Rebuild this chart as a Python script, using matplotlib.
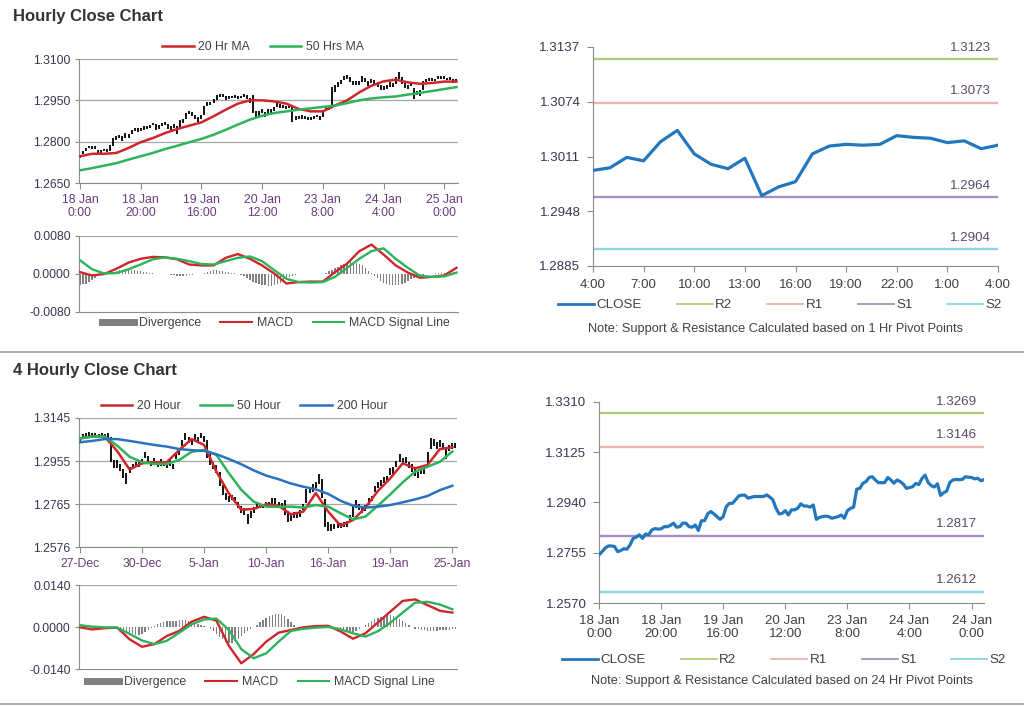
import numpy as np
import matplotlib
matplotlib.use("Agg")
import matplotlib.pyplot as plt
from matplotlib.lines import Line2D

plt.rcParams['font.family'] = ['Liberation Sans', 'DejaVu Sans']

# Hourly closes, 18 Jan 0:00 onwards (125 bars)
hourly_close = [
    1.2747, 1.2759, 1.2772, 1.2780, 1.2780, 1.2778, 1.2759, 1.2763, 1.2770, 1.2768,
    1.2784, 1.2808, 1.2812, 1.2821, 1.2808, 1.2824, 1.2821, 1.2839, 1.2844, 1.2842,
    1.2843, 1.2851, 1.2851, 1.2856, 1.2864, 1.2849, 1.2851, 1.2864, 1.2864, 1.2851,
    1.2849, 1.2857, 1.2837, 1.2873, 1.2873, 1.2898, 1.2907, 1.2898, 1.2888, 1.2878,
    1.2888, 1.2925, 1.2937, 1.2937, 1.2950, 1.2964, 1.2967, 1.2967, 1.2956, 1.2959,
    1.2962, 1.2962, 1.2962, 1.2962, 1.2968, 1.2960, 1.2950, 1.2919, 1.2898, 1.2900,
    1.2910, 1.2894, 1.2913, 1.2913, 1.2919, 1.2935, 1.2927, 1.2927, 1.2923, 1.2931,
    1.2878, 1.2885, 1.2888, 1.2890, 1.2888, 1.2882, 1.2885, 1.2888, 1.2894, 1.2882,
    1.2910, 1.2918, 1.2923, 1.2989, 1.2992, 1.3011, 1.3017, 1.3032, 1.3035, 1.3023,
    1.3013, 1.3013, 1.3013, 1.3032, 1.3023, 1.3011, 1.3023, 1.3017, 1.3008, 1.2992,
    1.2995, 1.2998, 1.3010, 1.3006, 1.3028, 1.3041, 1.3014, 1.3002, 1.2997, 1.3009,
    1.2966, 1.2976, 1.2982, 1.3014, 1.3023, 1.3025, 1.3024, 1.3025, 1.3035, 1.3033,
    1.3032, 1.3027, 1.3029, 1.3020, 1.3024]
# bar extent above / below the close, in pips
hourly_up = [
    6, 8, 6, 5, 4, 5, 12, 6, 5, 6, 5, 4, 8, 5, 14, 6, 8, 5, 6, 7,
    6, 5, 6, 5, 5, 14, 8, 5, 6, 12, 8, 6, 20, 5, 8, 6, 5, 8, 10, 12,
    8, 5, 6, 8, 6, 5, 6, 5, 10, 6, 5, 6, 5, 5, 5, 8, 10, 50, 15, 10,
    8, 14, 6, 6, 8, 5, 8, 6, 8, 6, 55, 8, 6, 5, 6, 8, 6, 5, 4, 10,
    5, 6, 6, 8, 15, 6, 8, 6, 8, 10, 8, 6, 6, 5, 8, 10, 5, 8, 8, 12,
    6, 8, 5, 8, 6, 12, 20, 10, 8, 5, 30, 8, 6, 5, 6, 5, 6, 4, 5, 5,
    6, 5, 5, 8, 5]
hourly_dn = [
    8, 5, 5, 4, 5, 6, 5, 6, 5, 5, 18, 22, 6, 8, 5, 10, 6, 12, 5, 6,
    5, 8, 5, 6, 5, 6, 6, 8, 5, 5, 6, 8, 10, 25, 6, 15, 8, 6, 5, 6,
    5, 30, 8, 5, 10, 12, 5, 5, 6, 5, 5, 5, 6, 5, 5, 6, 8, 15, 8, 6,
    6, 6, 15, 8, 6, 10, 6, 6, 5, 8, 6, 5, 5, 6, 5, 5, 6, 5, 6, 5,
    20, 8, 8, 60, 10, 12, 8, 10, 6, 5, 6, 6, 8, 15, 6, 8, 10, 6, 8, 6,
    8, 6, 10, 6, 18, 12, 6, 6, 6, 8, 12, 8, 15, 25, 6, 5, 5, 6, 8, 6,
    5, 5, 5, 6, 5]

# moving averages and MACD, read every 4 hours
ma20_hr = [1.2747, 1.2756, 1.2756, 1.2759, 1.2777, 1.2798, 1.2813, 1.2831,
           1.2846, 1.2858, 1.2870, 1.2892, 1.2916, 1.2938, 1.2950, 1.2950,
           1.2946, 1.2938, 1.2919, 1.2910, 1.2910, 1.2931, 1.2950, 1.2979,
           1.3003, 1.3019, 1.3025, 1.3015, 1.3010, 1.3013, 1.3018, 1.3018]
ma50_hr = [1.2696, 1.2704, 1.2713, 1.2722, 1.2735, 1.2747, 1.2759, 1.2773,
           1.2785, 1.2798, 1.2810, 1.2825, 1.2843, 1.2862, 1.2880, 1.2894,
           1.2904, 1.2910, 1.2916, 1.2921, 1.2926, 1.2931, 1.2940, 1.2950,
           1.2957, 1.2961, 1.2964, 1.2971, 1.2977, 1.2984, 1.2991, 1.2998]
macd_hr = [0.0004, -0.0003, 0.0000, 0.0011, 0.0024, 0.0032, 0.0036, 0.0035,
           0.0031, 0.0020, 0.0018, 0.0018, 0.0034, 0.0042, 0.0032, 0.0018,
           0.0001, -0.0020, -0.0017, -0.0016, -0.0016, 0.0004, 0.0022, 0.0048,
           0.0062, 0.0041, 0.0018, 0.0003, -0.0008, -0.0006, -0.0003, 0.0013]
signal_hr = [0.0029, 0.0010, 0.0001, 0.0002, 0.0010, 0.0020, 0.0031, 0.0035,
             0.0032, 0.0027, 0.0021, 0.0020, 0.0027, 0.0034, 0.0037, 0.0027,
             0.0008, -0.0010, -0.0017, -0.0018, -0.0017, -0.0006, 0.0013, 0.0032,
             0.0048, 0.0054, 0.0032, 0.0013, -0.0004, -0.0006, -0.0005, 0.0003]
div_hr = [
    -0.0024, -0.0022, -0.0020, -0.0017, -0.0013, -0.0009, -0.0005, -0.0002,
    0.0000, 0.0001, 0.0003, 0.0005, 0.0006, 0.0008, 0.0009, 0.0010,
    0.0010, 0.0009, 0.0008, 0.0007, 0.0006, 0.0005, 0.0004, 0.0003,
    0.0002, 0.0001, 0.0001, 0.0000, 0.0000, -0.0001, -0.0002, -0.0003,
    -0.0004, -0.0005, -0.0005, -0.0004, -0.0003, -0.0002, -0.0001, 0.0000,
    0.0001, 0.0003, 0.0005, 0.0007, 0.0008, 0.0008, 0.0007, 0.0006,
    0.0005, 0.0004, 0.0003, 0.0002, 0.0000, -0.0002, -0.0005, -0.0009,
    -0.0013, -0.0016, -0.0019, -0.0021, -0.0023, -0.0024, -0.0025, -0.0025,
    -0.0024, -0.0022, -0.0019, -0.0015, -0.0011, -0.0007, -0.0004, -0.0002,
    -0.0001, 0.0000, 0.0000, 0.0000, 0.0001, 0.0001, 0.0001, 0.0001,
    0.0001, 0.0003, 0.0006, 0.0009, 0.0012, 0.0015, 0.0018, 0.0021,
    0.0023, 0.0025, 0.0025, 0.0024, 0.0022, 0.0018, 0.0013, 0.0007,
    0.0002, -0.0004, -0.0009, -0.0014, -0.0018, -0.0021, -0.0023, -0.0024,
    -0.0024, -0.0023, -0.0021, -0.0018, -0.0015, -0.0011, -0.0008, -0.0005,
    -0.0003, -0.0002, -0.0001, 0.0000, 0.0001, 0.0002, 0.0002, 0.0003,
    0.0003, 0.0004, 0.0004, 0.0005, 0.0005]

hourly_labels = ['18 Jan\n0:00', '18 Jan\n20:00', '19 Jan\n16:00', '20 Jan\n12:00',
                 '23 Jan\n8:00', '24 Jan\n4:00', '25 Jan\n0:00']
hourly_labels_br = ['18 Jan\n0:00', '18 Jan\n20:00', '19 Jan\n16:00', '20 Jan\n12:00',
                    '23 Jan\n8:00', '24 Jan\n4:00', '24 Jan\n0:00']
last24_labels = ['4:00', '7:00', '10:00', '13:00', '16:00', '19:00', '22:00', '1:00', '4:00']

# 4-hourly closes, 27 Dec onwards (122 bars)
h4_close = [
    1.3048, 1.3063, 1.3070, 1.3073, 1.3070, 1.3070, 1.3067, 1.3070, 1.3067, 1.3070,
    1.2967, 1.2938, 1.2945, 1.2923, 1.2901, 1.2879, 1.2916, 1.2930, 1.2938, 1.2945,
    1.2952, 1.2982, 1.2952, 1.2945, 1.2955, 1.2938, 1.2950, 1.2945, 1.2938, 1.2945,
    1.2930, 1.2974, 1.2996, 1.3033, 1.3058, 1.3048, 1.3041, 1.3058, 1.3048, 1.3067,
    1.3052, 1.2989, 1.2952, 1.2930, 1.2923, 1.2864, 1.2820, 1.2798, 1.2791, 1.2794,
    1.2783, 1.2761, 1.2743, 1.2732, 1.2703, 1.2718, 1.2740, 1.2754, 1.2759, 1.2759,
    1.2764, 1.2764, 1.2776, 1.2779, 1.2764, 1.2758, 1.2739, 1.2703, 1.2710, 1.2717,
    1.2717, 1.2725, 1.2754, 1.2820, 1.2827, 1.2832, 1.2849, 1.2871, 1.2814, 1.2688,
    1.2673, 1.2666, 1.2666, 1.2670, 1.2670, 1.2673, 1.2676, 1.2703, 1.2747, 1.2769,
    1.2754, 1.2739, 1.2750, 1.2776, 1.2791, 1.2835, 1.2849, 1.2861, 1.2871, 1.2876,
    1.2908, 1.2916, 1.2945, 1.2967, 1.2955, 1.2960, 1.2938, 1.2923, 1.2908, 1.2894,
    1.2911, 1.2916, 1.2982, 1.3033, 1.3038, 1.3023, 1.3029, 1.3019, 1.2996, 1.3014,
    1.3019, 1.3026]
h4_up = [
    15, 12, 10, 10, 8, 10, 8, 10, 8, 10, 95, 20, 15, 18, 20, 25, 15, 12, 12, 12,
    10, 15, 25, 12, 15, 12, 15, 12, 12, 15, 12, 15, 12, 15, 20, 15, 12, 18, 12, 10,
    15, 60, 35, 20, 15, 45, 30, 15, 10, 12, 15, 15, 12, 15, 20, 15, 12, 10, 10, 8,
    10, 12, 15, 12, 10, 12, 45, 30, 15, 12, 10, 12, 10, 12, 15, 20, 15, 25, 60, 100,
    15, 12, 10, 10, 10, 12, 15, 12, 15, 15, 12, 15, 12, 15, 12, 12, 12, 10, 15, 12,
    15, 12, 12, 20, 15, 12, 15, 20, 15, 12, 12, 15, 15, 25, 15, 15, 20, 15, 15, 12,
    15, 10]
h4_dn = [
    10, 12, 10, 8, 8, 10, 8, 8, 10, 20, 15, 15, 20, 12, 20, 25, 15, 12, 10, 15,
    10, 15, 12, 10, 12, 10, 15, 10, 12, 12, 12, 10, 12, 12, 10, 12, 15, 10, 12, 10,
    12, 20, 15, 12, 20, 18, 15, 15, 15, 10, 12, 15, 18, 15, 25, 15, 12, 12, 10, 10,
    10, 12, 15, 12, 15, 15, 20, 15, 20, 12, 12, 15, 15, 50, 15, 15, 12, 15, 20, 25,
    25, 20, 12, 12, 12, 10, 12, 15, 40, 20, 15, 12, 15, 15, 12, 15, 12, 15, 12, 12,
    15, 20, 15, 15, 12, 15, 15, 15, 20, 12, 15, 20, 50, 25, 15, 15, 12, 15, 30, 15,
    12, 12]

ma20_4h = [1.3055, 1.3063, 1.3063, 1.2999, 1.2918, 1.2945, 1.2950, 1.2950,
           1.3004, 1.3052, 1.3026, 1.2908, 1.2812, 1.2740, 1.2744, 1.2764,
           1.2758, 1.2720, 1.2732, 1.2814, 1.2732, 1.2670, 1.2695, 1.2750,
           1.2823, 1.2879, 1.2945, 1.2923, 1.2938, 1.3008, 1.3016]
ma50_4h = [1.3055, 1.3063, 1.3063, 1.3023, 1.2974, 1.2950, 1.2942, 1.2942,
           1.2960, 1.2996, 1.3004, 1.2982, 1.2901, 1.2828, 1.2776, 1.2754,
           1.2753, 1.2754, 1.2750, 1.2761, 1.2754, 1.2725, 1.2698, 1.2710,
           1.2758, 1.2808, 1.2861, 1.2908, 1.2930, 1.2952, 1.2997]
ma200_4h = [1.3038, 1.3044, 1.3052, 1.3052, 1.3044, 1.3035, 1.3026, 1.3019,
            1.3008, 1.3003, 1.3000, 1.2985, 1.2964, 1.2941, 1.2914, 1.2891,
            1.2875, 1.2856, 1.2842, 1.2830, 1.2810, 1.2780, 1.2758, 1.2750,
            1.2754, 1.2761, 1.2773, 1.2786, 1.2801, 1.2827, 1.2846]
macd_4h = [-0.0001, -0.0008, -0.0004, -0.0002, -0.0041, -0.0066, -0.0057, -0.0030,
           -0.0013, 0.0018, 0.0034, 0.0021, -0.0063, -0.0121, -0.0090, -0.0049,
           -0.0019, -0.0010, -0.0001, 0.0003, 0.0004, -0.0015, -0.0039, -0.0021,
           0.0015, 0.0051, 0.0087, 0.0092, 0.0073, 0.0054, 0.0048]
signal_4h = [0.0006, 0.0001, -0.0001, -0.0002, -0.0023, -0.0045, -0.0057, -0.0046,
             -0.0019, 0.0009, 0.0025, 0.0028, -0.0010, -0.0074, -0.0104, -0.0088,
             -0.0049, -0.0013, -0.0006, -0.0002, 0.0000, -0.0008, -0.0021, -0.0032,
             -0.0014, 0.0014, 0.0048, 0.0081, 0.0084, 0.0075, 0.0059]
div_4h = [
    0.0003, 0.0002, 0.0000, -0.0002, -0.0003, -0.0002, -0.0001, 0.0000,
    0.0000, 0.0000, -0.0001, -0.0003, -0.0006, -0.0010, -0.0014, -0.0018,
    -0.0021, -0.0024, -0.0026, -0.0025, -0.0022, -0.0017, -0.0010, -0.0003,
    0.0004, 0.0010, 0.0014, 0.0017, 0.0019, 0.0020, 0.0020, 0.0021,
    0.0022, 0.0023, 0.0022, 0.0020, 0.0017, 0.0014, 0.0010, 0.0006,
    0.0004, 0.0000, -0.0006, -0.0014, -0.0022, -0.0032, -0.0041, -0.0049,
    -0.0054, -0.0053, -0.0048, -0.0040, -0.0030, -0.0020, -0.0012, -0.0005,
    0.0000, 0.0008, 0.0016, 0.0024, 0.0030, 0.0036, 0.0040, 0.0044,
    0.0045, 0.0042, 0.0036, 0.0028, 0.0018, 0.0008, 0.0001, -0.0003,
    -0.0005, -0.0005, -0.0004, -0.0003, -0.0002, -0.0001, 0.0000, 0.0001,
    0.0000, -0.0002, -0.0005, -0.0008, -0.0011, -0.0014, -0.0016, -0.0016,
    -0.0015, -0.0012, -0.0007, -0.0001, 0.0006, 0.0013, 0.0020, 0.0026,
    0.0031, 0.0035, 0.0038, 0.0040, 0.0040, 0.0038, 0.0034, 0.0028,
    0.0021, 0.0013, 0.0006, 0.0000, -0.0005, -0.0008, -0.0010, -0.0011,
    -0.0012, -0.0012, -0.0012, -0.0012, -0.0011, -0.0011, -0.0010, -0.0009,
    -0.0008, -0.0006]
h4_labels = ['27-Dec', '30-Dec', '5-Jan', '10-Jan', '16-Jan', '19-Jan', '25-Jan']

# pivot levels
pivot_names = ['R2', 'R1', 'S1', 'S2']
pivots_1hr = [1.3123, 1.3073, 1.2964, 1.2904]
pivots_24hr = [1.3269, 1.3146, 1.2817, 1.2612]

RED = '#D0262B'
GREEN = '#2DB35A'
BLUE = '#2A72C0'
GRID = '#A6A6A6'
SPINE = '#8C8C8C'
YCOL = '#3E3452'
XCOL = '#6B3B7D'
TXT = '#404040'
PIVOT_COLS = ['#B4CD7C', '#EDB3AF', '#A690C2', '#8ED3E6']
CLOSE_COL = '#2377BD'
FS = 8.8      # left panels
FSR = 9.6     # right panels


def W(px):
    return px / 1024


def H(px):
    return px / 706


def axes_px(fig, x0, y0, x1, y1):
    return fig.add_axes([W(x0), 1 - H(y1), W(x1 - x0), H(y1 - y0)])


def left_style(ax, yticks, ylabels):
    for s in ['top', 'right']:
        ax.spines[s].set_visible(False)
    for s in ['left', 'bottom']:
        ax.spines[s].set_color(SPINE)
    ax.set_ylim(yticks[0], yticks[-1])
    ax.set_yticks(yticks)
    ax.set_yticklabels(ylabels, fontsize=FS, color=YCOL)
    ax.yaxis.grid(True, color=GRID, lw=0.9)
    ax.set_axisbelow(True)
    ax.tick_params(axis='y', length=3, color=SPINE, pad=3)


def price_panel(ax, close, up, dn, yticks, ylabels, xlabels):
    x = np.arange(len(close))
    c = np.array(close)
    ax.vlines(x, c - np.array(dn) / 1e4, c + np.array(up) / 1e4, color='black', lw=1.3, zorder=2)
    left_style(ax, yticks, ylabels)
    ax.set_xlim(-0.3, len(close) - 0.5)
    ax.set_xticks(np.arange(0, len(close), 20))
    ax.set_xticklabels(xlabels, fontsize=FS, color=XCOL, linespacing=1.15)
    ax.tick_params(axis='x', length=4, color=SPINE, pad=4)


def macd_panel(ax, n, macd, signal, div, lim, labels):
    x = np.arange(n)
    xm = np.arange(0, n, 4)
    ax.bar(x, div, width=0.45, color='#7F7F7F', zorder=2)
    ax.plot(xm, macd, color=RED, lw=1.7, zorder=3)
    ax.plot(xm, signal, color=GREEN, lw=1.7, zorder=3)
    left_style(ax, [-lim, 0, lim], labels)
    ax.yaxis.grid(False)
    ax.axhline(lim, color=GRID, lw=0.9)
    ax.set_xlim(-0.3, n - 0.5)
    ax.set_xticks([])


def pivot_panel(ax, close, levels, yticks, xticks, xlabels, xlim):
    for lvl, col in zip(levels, PIVOT_COLS):
        ax.axhline(lvl, color=col, lw=1.7, zorder=1)
        ax.annotate(f'{lvl:.4f}', xy=(xlim[1], lvl), xytext=(-5, 4), textcoords='offset points',
                    ha='right', va='bottom', fontsize=FSR, color='#5A4A6A')
    ax.plot(np.arange(len(close)), close, color=CLOSE_COL, lw=2.3, zorder=3)
    for s in ['top', 'right']:
        ax.spines[s].set_visible(False)
    for s in ['left', 'bottom']:
        ax.spines[s].set_color(SPINE)
    ax.set_xlim(*xlim)
    ax.set_ylim(yticks[0], yticks[-1])
    ax.set_yticks(yticks)
    ax.set_yticklabels([f'{v:.4f}' for v in yticks], fontsize=FSR, color=YCOL)
    ax.set_xticks(xticks)
    ax.set_xticklabels(xlabels, fontsize=FSR, color=TXT, linespacing=1.1)
    ax.tick_params(length=4, color=SPINE, pad=5)


fig = plt.figure(figsize=(10.24, 7.06), dpi=100)

# section titles and separators
fig.text(W(13), 1 - H(16), 'Hourly Close Chart', fontsize=12, fontweight='bold', color='#333333', va='center')
fig.text(W(13), 1 - H(370), '4 Hourly Close Chart', fontsize=12, fontweight='bold', color='#333333', va='center')
for yy in [352, 704]:
    fig.add_artist(Line2D([0, 1], [1 - H(yy), 1 - H(yy)], transform=fig.transFigure, color='#A0A0A0', lw=1.2))

leg_kw = dict(loc='center', frameon=False, fontsize=FS, handlelength=2.6, columnspacing=1.6,
              handletextpad=0.4, labelcolor=TXT)

# ---- hourly chart with MAs ----
ax1 = axes_px(fig, 79, 59, 458, 183)
price_panel(ax1, hourly_close, hourly_up, hourly_dn, [1.2650, 1.2800, 1.2950, 1.3100],
            ['1.2650', '1.2800', '1.2950', '1.3100'], hourly_labels)
xm = np.arange(0, len(hourly_close), 4)
l20, = ax1.plot(xm, ma20_hr, color=RED, lw=1.8, zorder=3)
l50, = ax1.plot(xm, ma50_hr, color=GREEN, lw=1.8, zorder=3)
fig.legend([l20, l50], ['20 Hr MA', '50 Hrs MA'], bbox_to_anchor=(W(263), 1 - H(47)), ncol=2, **leg_kw)

ax2 = axes_px(fig, 79, 236, 458, 312)
macd_panel(ax2, len(hourly_close), macd_hr, signal_hr, div_hr, 0.008, ['-0.0080', '0.0000', '0.0080'])
macd_handles = [Line2D([], [], color='#7F7F7F', lw=5), Line2D([], [], color=RED, lw=1.5),
                Line2D([], [], color=GREEN, lw=1.5)]
macd_names = ['Divergence', 'MACD', 'MACD Signal Line']
fig.legend(macd_handles, macd_names, bbox_to_anchor=(W(276), 1 - H(323)), ncol=3, **leg_kw)

# ---- last 24 hours with 1 hr pivots ----
ax3 = axes_px(fig, 593, 47, 998, 266)
pivot_panel(ax3, hourly_close[-25:], pivots_1hr, [1.2885, 1.2948, 1.3011, 1.3074, 1.3137],
            np.arange(0, 25, 3), last24_labels, (0, 24))
piv_handles = [Line2D([], [], color=CLOSE_COL, lw=2)] + [Line2D([], [], color=c, lw=1.3) for c in PIVOT_COLS]
piv_kw = dict(loc='center', ncol=5, frameon=False, fontsize=FSR, handlelength=2.7, columnspacing=2.6,
              handletextpad=0.2, labelcolor=TXT)
fig.legend(piv_handles, ['CLOSE'] + pivot_names, bbox_to_anchor=(W(780), 1 - H(305)), **piv_kw)
fig.text(W(775), 1 - H(329), 'Note: Support & Resistance Calculated based on 1 Hr Pivot Points',
         ha='center', va='center', fontsize=9.2, color=TXT)

# ---- 4 hourly chart ----
ax4 = axes_px(fig, 79, 418, 457, 547)
price_panel(ax4, h4_close, h4_up, h4_dn, list(np.linspace(1.2576, 1.3145, 4)),
            ['1.2576', '1.2765', '1.2955', '1.3145'], h4_labels)
x4 = np.arange(0, len(h4_close), 4)
m20, = ax4.plot(x4, ma20_4h, color=RED, lw=1.8, zorder=3)
m50, = ax4.plot(x4, ma50_4h, color=GREEN, lw=1.8, zorder=3)
m200, = ax4.plot(x4, ma200_4h, color=BLUE, lw=1.8, zorder=3)
fig.legend([m20, m50, m200], ['20 Hour', '50 Hour', '200 Hour'], bbox_to_anchor=(W(244), 1 - H(406)),
           ncol=3, **leg_kw)

ax5 = axes_px(fig, 79, 585, 457, 669)
macd_panel(ax5, len(h4_close), macd_4h, signal_4h, div_4h, 0.014, ['-0.0140', '0.0000', '0.0140'])
fig.legend(macd_handles, macd_names, bbox_to_anchor=(W(261), 1 - H(682)), ncol=3, **leg_kw)

# ---- hourly closes with 24 hr pivots ----
ax6 = axes_px(fig, 599, 402, 984, 603)
pivot_panel(ax6, hourly_close, pivots_24hr, [1.2570, 1.2755, 1.2940, 1.3125, 1.3310],
            np.arange(0, len(hourly_close), 20), hourly_labels_br, (0, len(hourly_close) - 1))
fig.legend(piv_handles, ['CLOSE'] + pivot_names, bbox_to_anchor=(W(784), 1 - H(660)), **piv_kw)
fig.text(W(782), 1 - H(681), 'Note: Support & Resistance Calculated based on 24 Hr Pivot Points',
         ha='center', va='center', fontsize=9.2, color=TXT)

fig.savefig('out.png', dpi=100, facecolor='white')
